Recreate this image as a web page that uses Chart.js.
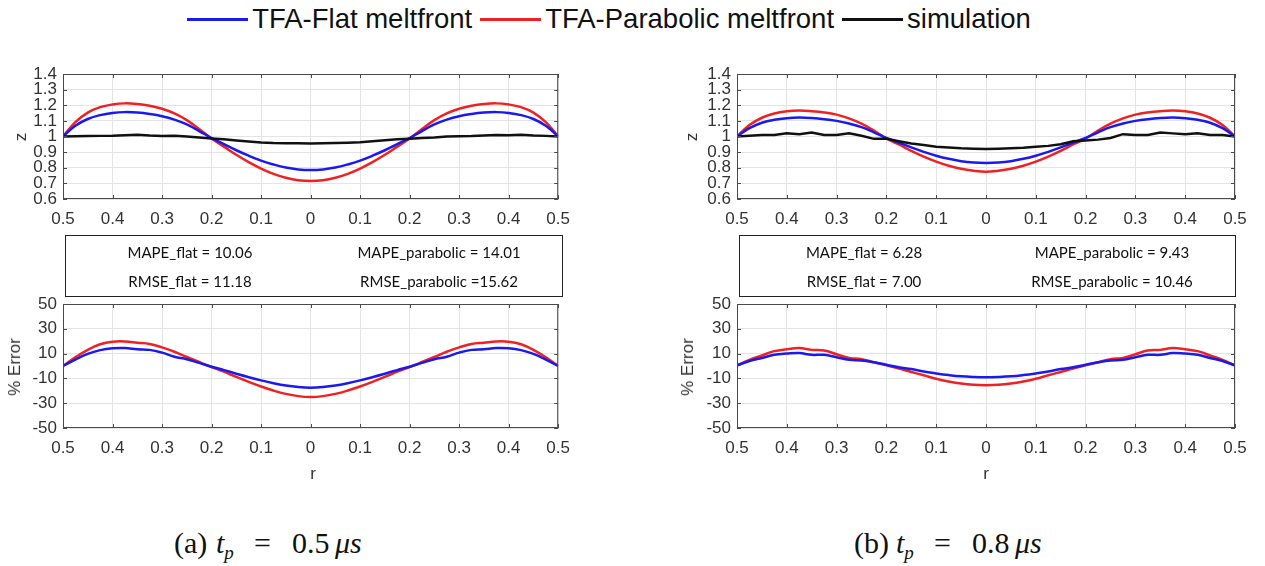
<!DOCTYPE html>
<html>
<head>
<meta charset="utf-8">
<script src="https://cdn.jsdelivr.net/npm/chart.js@4.4.1/dist/chart.umd.min.js"></script>
<style>
  body { margin: 0; background: #fff; width: 1265px; height: 566px; position: relative; overflow: hidden; font-family: "Liberation Sans", Arial, sans-serif; }
  canvas { position: absolute; }
  .legend { position: absolute; left: 0; top: 3px; width: 1218px; display: flex; justify-content: center; align-items: center; font-size: 27.5px; color: #111; }
  .legend .ln { display: inline-block; width: 61px; height: 3px; margin-right: 4px; }
  .legend .tx { margin-right: 8px; }
  .box { position: absolute; border: 1.5px solid #222; box-sizing: border-box; }
  .stat { position: absolute; font-family: Lato, "Open Sans", sans-serif; font-size: 15px; color: #111; transform: translateX(-50%); white-space: nowrap; }
  .ytitle { position: absolute; font-size: 17px; color: #333; transform: translate(-50%, -50%) rotate(-90deg); white-space: nowrap; }
  .xtitle { position: absolute; font-size: 17px; color: #333; transform: translate(-50%, -50%); }
  .cap { position: absolute; font-family: "Liberation Serif", "DejaVu Serif", serif; font-size: 30px; color: #111; white-space: nowrap; height: 36px; width: 220px; }
  .cap span { position: absolute; top: 0; }
  .cap i { font-style: italic; }
  .cap sub { font-size: 19px; font-style: italic; vertical-align: -6px; }
</style>
</head>
<body>

<div class="legend">
  <span class="ln" style="background:#1a1aee"></span><span class="tx">TFA-Flat meltfront</span>
  <span class="ln" style="background:#ee2222"></span><span class="tx">TFA-Parabolic meltfront</span>
  <span class="ln" style="background:#111"></span><span>simulation</span>
</div>

<canvas id="zA" width="580" height="180" style="left:0;top:54px"></canvas>
<canvas id="eA" width="580" height="206" style="left:0;top:284px"></canvas>
<canvas id="zB" width="600" height="180" style="left:660px;top:54px"></canvas>
<canvas id="eB" width="600" height="206" style="left:660px;top:284px"></canvas>

<div class="ytitle" style="left:21px;top:137px">z</div>
<div class="ytitle" style="left:692px;top:137px">z</div>
<div class="ytitle" style="left:15px;top:367px">% Error</div>
<div class="ytitle" style="left:688px;top:367px">% Error</div>
<div class="xtitle" style="left:313px;top:474px">r</div>
<div class="xtitle" style="left:986px;top:474px">r</div>

<div class="box" style="left:65px;top:235px;width:498px;height:62px"></div>
<div class="stat" style="left:190px;top:243px">MAPE_flat = 10.06</div>
<div class="stat" style="left:439px;top:243px">MAPE_parabolic = 14.01</div>
<div class="stat" style="left:190px;top:272px">RMSE_flat = 11.18</div>
<div class="stat" style="left:439px;top:272px">RMSE_parabolic =15.62</div>

<div class="box" style="left:739px;top:235px;width:497px;height:62px"></div>
<div class="stat" style="left:864px;top:243px">MAPE_flat = 6.28</div>
<div class="stat" style="left:1112px;top:243px">MAPE_parabolic = 9.43</div>
<div class="stat" style="left:864px;top:272px">RMSE_flat = 7.00</div>
<div class="stat" style="left:1112px;top:272px">RMSE_parabolic = 10.46</div>

<div class="cap" style="left:174px;top:526px">
  <span style="left:0">(a)</span><span style="left:42px"><i>t</i><sub>p</sub></span><span style="left:80px">=</span><span style="left:118px">0.5</span><span style="left:161px"><i>μs</i></span>
</div>
<div class="cap" style="left:854px;top:526px">
  <span style="left:0">(b)</span><span style="left:42px"><i>t</i><sub>p</sub></span><span style="left:80px">=</span><span style="left:118px">0.8</span><span style="left:161px"><i>μs</i></span>
</div>

<script>
// radial positions (r), left edge -0.5 to right edge 0.5
const rVals = [-0.5, -0.475, -0.45, -0.425, -0.4, -0.375, -0.35, -0.325, -0.3, -0.275, -0.25,
    -0.225, -0.2, -0.175, -0.15, -0.125, -0.1, -0.075, -0.05, -0.025, 0,
    0.025, 0.05, 0.075, 0.1, 0.125, 0.15, 0.175, 0.2, 0.225, 0.25,
    0.275, 0.3, 0.325, 0.35, 0.375, 0.4, 0.425, 0.45, 0.475, 0.5];

// tick labels
const rTicks = [-0.5, -0.4, -0.3, -0.2, -0.1, 0, 0.1, 0.2, 0.3, 0.4, 0.5];
const zTicks = [0.6, 0.7, 0.8, 0.9, 1, 1.1, 1.2, 1.3, 1.4];
const errTicks = [-50, -30, -10, 10, 30, 50];

// (a) tp = 0.5 us : z
const zA_flat = [1.000, 1.069, 1.112, 1.137, 1.151, 1.156, 1.153, 1.144, 1.130, 1.108, 1.077,
    1.035, 0.990, 0.951, 0.912, 0.877, 0.846, 0.821, 0.801, 0.789, 0.785,
    0.789, 0.801, 0.821, 0.846, 0.877, 0.912, 0.951, 0.990, 1.035, 1.077,
    1.108, 1.130, 1.144, 1.153, 1.156, 1.151, 1.137, 1.112, 1.069, 1.000];
const zA_para = [1.000, 1.092, 1.153, 1.188, 1.205, 1.212, 1.208, 1.197, 1.178, 1.148, 1.105,
    1.048, 0.987, 0.935, 0.883, 0.836, 0.795, 0.761, 0.736, 0.720, 0.715,
    0.720, 0.736, 0.761, 0.795, 0.836, 0.883, 0.935, 0.987, 1.048, 1.105,
    1.148, 1.178, 1.197, 1.208, 1.212, 1.205, 1.188, 1.153, 1.092, 1.000];
const zA_sim = [1.000, 1.002, 1.003, 1.004, 1.005, 1.008, 1.011, 1.006, 1.003, 1.004, 1.000,
    0.993, 0.987, 0.982, 0.975, 0.968, 0.962, 0.958, 0.957, 0.957, 0.956,
    0.957, 0.958, 0.960, 0.963, 0.969, 0.976, 0.982, 0.986, 0.990, 0.994,
    1.000, 1.002, 1.003, 1.006, 1.010, 1.008, 1.011, 1.006, 1.004, 1.000];

// (a) % error
const eA_flat = [0, 5.2, 9.8, 12.8, 14.3, 14.5, 13.5, 13.0, 10.8, 7.5, 5.5,
    2.5, -0.6, -3.3, -6.2, -9.0, -11.6, -13.9, -15.8, -17.0, -17.5,
    -17.0, -15.8, -13.9, -11.6, -9.0, -6.2, -3.3, -0.6, 2.5, 5.5,
    7.5, 10.8, 13.0, 13.5, 14.5, 14.3, 12.8, 9.8, 5.2, 0];
const eA_para = [0, 7.0, 13.0, 17.5, 19.6, 19.8, 18.8, 17.8, 15.0, 11.5, 7.3,
    3.2, -0.8, -4.6, -8.8, -12.8, -16.5, -19.8, -22.5, -24.3, -25.0,
    -24.3, -22.5, -19.8, -16.5, -12.8, -8.8, -4.6, -0.8, 3.2, 7.3,
    11.5, 15.0, 17.8, 18.8, 19.8, 19.6, 17.5, 13.0, 7.0, 0];

// (b) tp = 0.8 us : z
const zB_flat = [1.000, 1.053, 1.088, 1.107, 1.117, 1.121, 1.118, 1.111, 1.100, 1.083, 1.060,
    1.027, 0.991, 0.961, 0.930, 0.902, 0.877, 0.857, 0.842, 0.833, 0.830,
    0.833, 0.842, 0.857, 0.877, 0.902, 0.930, 0.961, 0.991, 1.027, 1.060,
    1.083, 1.100, 1.111, 1.118, 1.121, 1.117, 1.107, 1.088, 1.053, 1.000];
const zB_para = [1.000, 1.073, 1.120, 1.147, 1.161, 1.166, 1.162, 1.154, 1.140, 1.116, 1.082,
    1.038, 0.987, 0.949, 0.908, 0.871, 0.839, 0.813, 0.793, 0.781, 0.775,
    0.781, 0.793, 0.813, 0.839, 0.871, 0.908, 0.949, 0.987, 1.038, 1.082,
    1.116, 1.140, 1.154, 1.162, 1.166, 1.161, 1.147, 1.120, 1.073, 1.000];
const zB_sim = [1.000, 1.005, 1.010, 1.010, 1.020, 1.015, 1.025, 1.010, 1.010, 1.020, 1.005,
    0.985, 0.985, 0.970, 0.955, 0.945, 0.935, 0.930, 0.925, 0.922, 0.920,
    0.922, 0.925, 0.928, 0.935, 0.940, 0.950, 0.970, 0.975, 0.980, 0.990,
    1.015, 1.010, 1.010, 1.025, 1.020, 1.015, 1.020, 1.010, 1.010, 1.000];

// (b) % error
const eB_flat = [0.5, 4.0, 6.5, 9.0, 10.0, 10.5, 9.0, 9.0, 7.0, 5.0, 4.5,
    3.0, 1.0, -1.0, -2.5, -4.5, -6.0, -7.3, -8.3, -8.8, -9.0,
    -8.8, -8.3, -7.3, -6.0, -4.5, -2.5, -1.0, 1.0, 3.0, 4.5,
    5.0, 7.0, 9.0, 9.0, 10.5, 10.0, 9.0, 6.5, 4.0, 0.5];
const eB_para = [0.5, 5.0, 8.5, 12.0, 13.5, 14.5, 13.0, 12.5, 9.5, 6.5, 5.5,
    3.0, 0.5, -2.0, -4.8, -7.5, -10.3, -12.5, -14.2, -15.2, -15.5,
    -15.2, -14.2, -12.5, -10.3, -7.5, -4.8, -2.0, 0.5, 3.0, 5.5,
    6.5, 9.5, 12.5, 13.0, 14.5, 13.5, 12.0, 8.5, 5.0, 0.5];

const BLUE = "#1a1aee";
const RED = "#ee2222";
const BLACK = "#111111";

Chart.defaults.font.family = "'Liberation Sans', Arial, sans-serif";
Chart.defaults.font.size = 17;
Chart.defaults.color = "#333333";

function pts(vals) {
    return rVals.map((r, i) => ({ x: r, y: vals[i] }));
}

function line(vals, color, smooth) {
    return {
        data: pts(vals),
        borderColor: color,
        borderWidth: 2.5,
        pointRadius: 0,
        tension: smooth ? 0.4 : 0
    };
}

// matlab style box with inward ticks
const boxPlugin = {
    id: "box",
    afterDraw(chart) {
        const { ctx, chartArea: a, scales } = chart;
        ctx.save();
        ctx.strokeStyle = "#4a4a4a";
        ctx.lineWidth = 1;
        ctx.strokeRect(a.left + 0.5, a.top + 0.5, a.right - a.left - 1, a.bottom - a.top - 1);
        ctx.beginPath();
        scales.x.ticks.forEach(t => {
            const px = Math.round(scales.x.getPixelForValue(t.value)) + 0.5;
            ctx.moveTo(px, a.bottom); ctx.lineTo(px, a.bottom - 4);
            ctx.moveTo(px, a.top); ctx.lineTo(px, a.top + 4);
        });
        scales.y.ticks.forEach(t => {
            const py = Math.round(scales.y.getPixelForValue(t.value)) + 0.5;
            ctx.moveTo(a.left, py); ctx.lineTo(a.left + 4, py);
            ctx.moveTo(a.right, py); ctx.lineTo(a.right - 4, py);
        });
        ctx.stroke();
        ctx.restore();
    }
};

function makeChart(id, datasets, yMin, yMax, yTicks, yWidth, xHeight, padTop, padRight) {
    const canvas = document.getElementById(id);
    if (!canvas) {
        console.log("canvas not found:", id);
        return;
    }
    new Chart(canvas, {
        type: "line",
        data: { datasets: datasets },
        plugins: [boxPlugin],
        options: {
            responsive: false,
            animation: false,
            layout: { padding: { top: padTop, right: padRight, left: 0, bottom: 0 } },
            plugins: { legend: { display: false }, tooltip: { enabled: false } },
            scales: {
                x: {
                    type: "linear",
                    min: -0.5,
                    max: 0.5,
                    afterBuildTicks: s => { s.ticks = rTicks.map(v => ({ value: v })); },
                    afterFit: s => { s.height = xHeight; },
                    grid: { color: "#e4e4e4", drawTicks: false },
                    border: { display: false },
                    ticks: {
                        padding: 10,
                        maxRotation: 0,
                        autoSkip: false,
                        callback: v => String(Math.abs(Math.round(v * 10) / 10))
                    }
                },
                y: {
                    min: yMin,
                    max: yMax,
                    afterBuildTicks: s => { s.ticks = yTicks.map(v => ({ value: v })); },
                    afterFit: s => { s.width = yWidth; },
                    grid: { color: "#e4e4e4", drawTicks: false },
                    border: { display: false },
                    ticks: {
                        padding: 6,
                        autoSkip: false,
                        callback: v => String(Math.round(v * 10) / 10)
                    }
                }
            }
        }
    });
}

makeChart("zA", [line(zA_sim, BLACK, false), line(zA_flat, BLUE, true), line(zA_para, RED, true)],
    0.6, 1.4, zTicks, 63, 35, 20, 18);
makeChart("eA", [line(eA_flat, BLUE, true), line(eA_para, RED, true)],
    -50, 50, errTicks, 63, 62, 20, 18);
makeChart("zB", [line(zB_sim, BLACK, false), line(zB_flat, BLUE, true), line(zB_para, RED, true)],
    0.6, 1.4, zTicks, 77, 35, 20, 25);
makeChart("eB", [line(eB_flat, BLUE, true), line(eB_para, RED, true)],
    -50, 50, errTicks, 77, 62, 20, 25);
</script>
</body>
</html>
